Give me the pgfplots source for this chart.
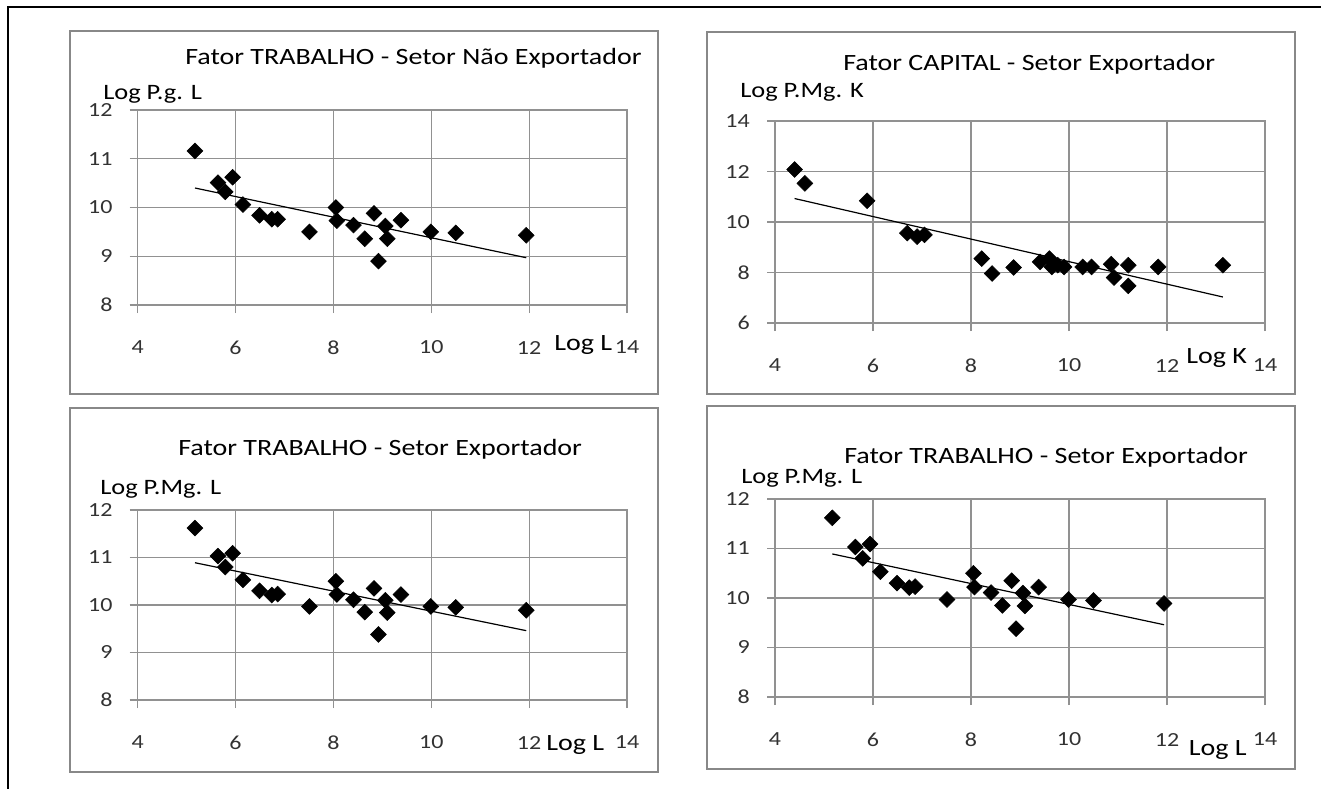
\documentclass[border=0pt]{standalone}
\usepackage{fontspec}
\setmainfont{Carlito}[FakeStretch=1.2]
\usepackage{pgfplots}
\pgfplotsset{compat=1.18}
\definecolor{gridgray}{RGB}{145,145,145}
\definecolor{framegray}{RGB}{136,136,136}
\definecolor{labgray}{RGB}{50,50,50}
\newcommand{\tkfont}{\fontsize{15}{15}\selectfont}

\pgfplotstableread{
x y
5.17 11.16
5.64 10.51
5.79 10.32
5.94 10.62
6.15 10.06
6.49 9.84
6.74 9.76
6.86 9.76
7.51 9.50
8.05 10.00
8.07 9.73
8.41 9.64
8.64 9.36
8.83 9.88
8.92 8.90
9.06 9.62
9.10 9.36
9.38 9.74
9.99 9.50
10.50 9.48
11.94 9.43
}\dataA

\pgfplotstableread{
x y
4.40 12.08
4.61 11.53
5.88 10.84
6.70 9.56
6.90 9.42
7.05 9.49
8.22 8.55
8.43 7.96
8.87 8.20
9.41 8.42
9.60 8.55
9.65 8.22
9.77 8.29
9.90 8.22
10.28 8.22
10.46 8.22
10.86 8.33
10.92 7.80
11.21 8.29
11.21 7.47
11.82 8.22
13.14 8.29
}\dataB

\pgfplotstableread{
x y
5.17 11.62
5.64 11.03
5.79 10.80
5.94 11.09
6.15 10.53
6.49 10.30
6.74 10.21
6.86 10.23
7.51 9.97
8.05 10.50
8.07 10.22
8.41 10.11
8.64 9.85
8.83 10.35
8.92 9.38
9.06 10.10
9.10 9.84
9.38 10.22
9.99 9.97
10.50 9.95
11.94 9.89
}\dataC

\pgfplotsset{panel/.style={
  scale only axis, anchor=south west,
  xmin=4, xmax=14, xtick={4,6,...,14},
  grid=major, grid style={gridgray, line width=0.8pt},
  axis line style={gridgray, line width=0.8pt},
  tick align=outside, major tick length=6pt,
  tick style={gridgray, line width=0.8pt},
  xtick pos=bottom, ytick pos=left,
  /pgf/number format/assume math mode=true,
  xticklabel={\tkfont\pgfmathprintnumber{\tick}},
  yticklabel={\tkfont\pgfmathprintnumber{\tick}},
  xticklabel style={text=labgray, inner sep=0pt, anchor=center, yshift=-25.9pt},
  yticklabel style={text=labgray, inner sep=0pt, anchor=east, xshift=-12.75pt},
  clip=false,
},
dots/.style={only marks, mark=square*, mark size=4.2pt, mark options={rotate=45, fill=black, draw=black}},
trend/.style={black, line width=0.9pt, no marks},
}

\begin{document}
\begin{tikzpicture}
\path[use as bounding box] (0pt,0pt) rectangle (990.75pt,-591.75pt);
% outer frame (left and top)
\draw[black, line width=1.5pt] (6pt,-650pt) -- (6pt,-5.25pt) -- (1050pt,-5.25pt);
% panel frames
\draw[framegray, line width=1.6pt] (52.5pt,-23.25pt) rectangle (493.3pt,-295.3pt);
\draw[framegray, line width=1.6pt] (530.25pt,-24pt) rectangle (971.25pt,-295.3pt);
\draw[framegray, line width=1.6pt] (52.5pt,-306pt) rectangle (493.3pt,-579pt);
\draw[framegray, line width=1.6pt] (530.25pt,-304.5pt) rectangle (971.25pt,-576.75pt);

% Panel 1
\begin{axis}[panel, at={(103.28pt,-228.75pt)}, width=366.98pt, height=146.25pt,
  ymin=8, ymax=12, ytick={8,9,10,11,12}]
\addplot[trend] coordinates {(5.17,10.40) (11.94,8.97)};
\addplot[dots] table[x=x,y=y] {\dataA};
\end{axis}

% Panel 2
\begin{axis}[panel, at={(581.25pt,-242.25pt)}, width=367.5pt, height=151.5pt,
  ymin=6, ymax=14, ytick={6,8,10,12,14}]
\addplot[trend] coordinates {(4.40,10.93) (13.14,7.03)};
\addplot[dots] table[x=x,y=y] {\dataB};
\end{axis}

% Panel 3
\begin{axis}[panel, at={(103.28pt,-525pt)}, width=366.98pt, height=142.5pt,
  ymin=8, ymax=12, ytick={8,9,10,11,12}]
\addplot[trend] coordinates {(5.17,10.89) (11.94,9.46)};
\addplot[dots] table[x=x,y=y] {\dataC};
\end{axis}

% Panel 4
\begin{axis}[panel, at={(581.25pt,-522.75pt)}, width=367.5pt, height=148.5pt,
  ymin=8, ymax=12, ytick={8,9,10,11,12}]
\addplot[trend] coordinates {(5.17,10.89) (11.94,9.46)};
\addplot[dots] table[x=x,y=y] {\dataC};
\end{axis}

% titles and axis names
\begin{scope}[every node/.style={inner sep=0pt, anchor=base west, text=black}]
\node[font=\fontsize{17.5}{17.5}\selectfont] at (138.75pt,-48.2pt) {Fator TRABALHO - Setor Não Exportador};
\node[font=\fontsize{16.5}{16.5}\selectfont] at (77.25pt,-74.5pt) {Log P.g. L};
\node[font=\fontsize{17.5}{17.5}\selectfont] at (415.5pt,-263pt) {Log L};

\node[font=\fontsize{17.5}{17.5}\selectfont] at (632.25pt,-52.5pt) {Fator CAPITAL - Setor Exportador};
\node[font=\fontsize{16.5}{16.5}\selectfont] at (555pt,-72.75pt) {Log P.Mg. K};
\node[font=\fontsize{17.5}{17.5}\selectfont] at (889.5pt,-272.3pt) {Log K};

\node[font=\fontsize{17.5}{17.5}\selectfont] at (133.5pt,-341.25pt) {Fator TRABALHO - Setor Exportador};
\node[font=\fontsize{16.5}{16.5}\selectfont] at (75pt,-370.5pt) {Log P.Mg. L};
\node[font=\fontsize{17.5}{17.5}\selectfont] at (409.5pt,-562.5pt) {Log L};

\node[font=\fontsize{17.5}{17.5}\selectfont] at (633pt,-347.25pt) {Fator TRABALHO - Setor Exportador};
\node[font=\fontsize{16.5}{16.5}\selectfont] at (555.75pt,-362.5pt) {Log P.Mg. L};
\node[font=\fontsize{17.5}{17.5}\selectfont] at (891.5pt,-566.25pt) {Log L};
\end{scope}
\end{tikzpicture}
\end{document}
